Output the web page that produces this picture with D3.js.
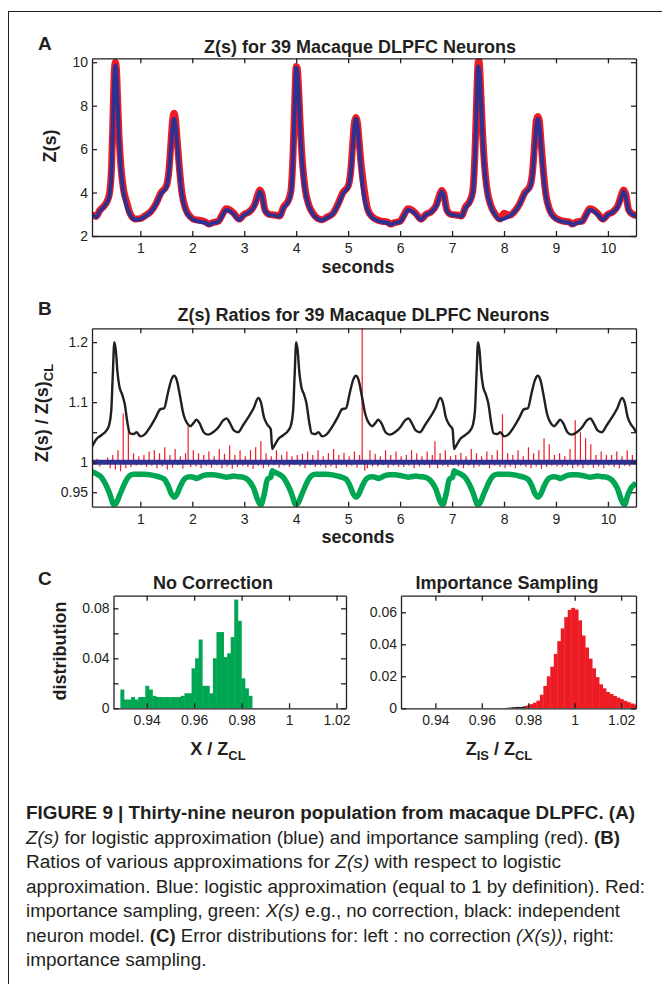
<!DOCTYPE html>
<html lang="en">
<head>
<meta charset="UTF-8">
<title>Figure 9 -- macaque DLPFC</title>
<style>
  html, body { margin: 0; padding: 0; background: #fff; }
  svg { display: block; }
  text { fill: #231f20; }
</style>
</head>
<body>
<div id="chart"></div>
<script src="https://cdn.jsdelivr.net/npm/d3@7"></script>
<script>
  // ---------- panel A : Z(s), seconds
  const zTimes = [
    0.07, 0.15, 0.22, 0.3, 0.36, 0.41, 0.45, 0.48, 0.5, 0.52,
    0.54, 0.56, 0.59, 0.63, 0.68, 0.74, 0.8, 0.9, 1.0, 1.1,
    1.2, 1.3, 1.4, 1.5, 1.55, 1.59, 1.62, 1.65, 1.68, 1.71,
    1.75, 1.8, 1.88, 1.96, 2.05, 2.15, 2.25, 2.32, 2.4, 2.5,
    2.58, 2.65, 2.72, 2.8, 2.9, 3.0, 3.1, 3.2, 3.26, 3.3,
    3.34, 3.4, 3.48, 3.58, 3.68, 3.76, 3.84, 3.9, 3.94, 3.97,
    4.0, 4.02, 4.05, 4.08, 4.12, 4.17, 4.24, 4.32, 4.42, 4.5,
    4.6, 4.7, 4.8, 4.9, 5.0, 5.05, 5.09, 5.12, 5.15, 5.18,
    5.21, 5.25, 5.3, 5.38, 5.46, 5.55, 5.65, 5.75, 5.82, 5.9,
    6.0, 6.08, 6.15, 6.22, 6.3, 6.4, 6.5, 6.6, 6.7, 6.76,
    6.8, 6.84, 6.9, 6.98, 7.08, 7.18, 7.26, 7.34, 7.4, 7.44,
    7.47, 7.5, 7.52, 7.55, 7.58, 7.62, 7.67, 7.74, 7.82, 7.92,
    8.0, 8.1, 8.2, 8.3, 8.4, 8.5, 8.55, 8.59, 8.62, 8.65,
    8.68, 8.71, 8.75, 8.8, 8.88, 8.96, 9.05, 9.15, 9.25, 9.32,
    9.4, 9.5, 9.58, 9.65, 9.72, 9.8, 9.9, 10.0, 10.1, 10.2,
    10.26, 10.3, 10.34, 10.4, 10.48, 10.54
  ]
  // logistic approximation (blue)
  const zLogistic = [
    2.95, 2.88, 3.15, 3.35, 3.55, 3.9, 5.2, 7.8, 9.3, 9.85,
    9.5, 8.3, 6.4, 4.9, 3.95, 3.35, 3.0, 2.75, 2.78, 2.92,
    3.1, 3.45, 3.95, 4.25, 4.9, 6.1, 7.0, 7.4, 7.1, 6.2,
    5.0, 3.9, 3.15, 2.85, 2.72, 2.65, 2.62, 2.52, 2.6, 2.65,
    2.95, 3.2, 3.15, 3.0, 2.75, 2.98, 3.1, 3.4, 3.8, 4.05,
    3.85, 3.15, 2.98, 2.95, 2.9, 3.3, 3.55, 4.0, 5.6, 7.8,
    9.75, 9.6, 8.4, 6.8, 5.2, 4.1, 3.4, 3.0, 2.78, 2.72,
    2.85, 3.0, 3.4, 3.95, 4.25, 4.9, 6.1, 7.0, 7.4, 7.1,
    6.2, 5.0, 3.9, 3.15, 2.85, 2.72, 2.65, 2.62, 2.52, 2.6,
    2.65, 2.95, 3.2, 3.15, 3.0, 2.75, 2.98, 3.1, 3.4, 3.8,
    4.05, 3.85, 3.15, 2.98, 2.95, 2.9, 3.3, 3.55, 4.0, 5.6,
    7.8, 9.8, 9.7, 8.6, 6.9, 5.2, 4.1, 3.4, 3.0, 2.75,
    2.8, 2.92, 3.1, 3.45, 3.95, 4.25, 4.9, 6.1, 7.0, 7.4,
    7.1, 6.2, 5.0, 3.9, 3.15, 2.85, 2.72, 2.65, 2.62, 2.52,
    2.6, 2.65, 2.95, 3.2, 3.15, 3.0, 2.75, 2.98, 3.1, 3.4,
    3.8, 4.05, 3.85, 3.15, 2.98, 2.92
  ]
  // importance sampling (red)
  const zImportance = [
    2.97, 2.9, 3.18, 3.38, 3.6, 4.0, 5.4, 8.0, 9.6, 10.0,
    9.7, 8.5, 6.6, 5.1, 4.1, 3.55, 3.05, 2.78, 2.8, 2.95,
    3.12, 3.48, 4.0, 4.3, 5.0, 6.3, 7.3, 7.65, 7.3, 6.4,
    5.2, 4.0, 3.2, 2.9, 2.75, 2.72, 2.65, 2.55, 2.62, 2.68,
    3.0, 3.25, 3.2, 3.05, 2.78, 3.0, 3.12, 3.45, 3.9, 4.12,
    3.95, 3.2, 3.0, 2.97, 2.92, 3.35, 3.6, 4.1, 5.8, 8.0,
    9.8, 9.75, 8.6, 7.0, 5.4, 4.2, 3.45, 3.05, 2.8, 2.75,
    2.88, 3.02, 3.45, 4.0, 4.3, 5.0, 6.3, 7.2, 7.45, 7.2,
    6.4, 5.3, 4.3, 3.2, 2.9, 2.75, 2.68, 2.65, 2.55, 2.62,
    2.68, 3.0, 3.25, 3.2, 3.05, 2.78, 3.0, 3.12, 3.45, 3.9,
    4.1, 3.95, 3.2, 3.0, 2.97, 2.92, 3.35, 3.6, 4.1, 5.8,
    8.0, 10.0, 10.05, 8.8, 7.1, 5.4, 4.2, 3.45, 3.05, 2.78,
    3.05, 2.95, 3.12, 3.48, 4.0, 4.3, 5.0, 6.3, 7.3, 7.5,
    7.3, 6.4, 5.2, 4.0, 3.2, 2.9, 2.75, 2.68, 2.65, 2.55,
    2.65, 2.68, 3.0, 3.25, 3.2, 3.05, 2.78, 3.0, 3.12, 3.45,
    3.9, 4.12, 3.95, 3.2, 3.0, 2.95
  ]

  // ---------- panel B : ratios to logistic approximation
  const ratioTimes = [
    0.07, 0.15, 0.25, 0.35, 0.4, 0.44, 0.47, 0.5, 0.53, 0.56,
    0.6, 0.65, 0.7, 0.75, 0.8, 0.87, 0.93, 1.0, 1.08, 1.2,
    1.3, 1.38, 1.46, 1.53, 1.6, 1.65, 1.7, 1.76, 1.83, 1.9,
    1.96, 2.03, 2.08, 2.14, 2.22, 2.3, 2.4, 2.5, 2.6, 2.66,
    2.72, 2.8, 2.88, 2.98, 3.08, 3.18, 3.27, 3.32, 3.38, 3.45,
    3.51, 3.54,
    3.57, 3.65, 3.75, 3.85, 3.9, 3.94, 3.97, 4.0, 4.03, 4.06,
    4.1, 4.15, 4.2, 4.25, 4.3, 4.37, 4.43, 4.5, 4.58, 4.7,
    4.8, 4.88, 4.96, 5.03, 5.1, 5.15, 5.2, 5.26, 5.33, 5.4,
    5.46, 5.53, 5.58, 5.64, 5.72, 5.8, 5.9, 6.0, 6.1, 6.16,
    6.22, 6.3, 6.38, 6.48, 6.58, 6.68, 6.77, 6.82, 6.88, 6.95,
    7.01, 7.04,
    7.07, 7.15, 7.25, 7.35, 7.4, 7.44, 7.47, 7.5, 7.53, 7.56,
    7.6, 7.65, 7.7, 7.75, 7.8, 7.87, 7.93, 8.0, 8.08, 8.2,
    8.3, 8.38, 8.46, 8.53, 8.6, 8.65, 8.7, 8.76, 8.83, 8.9,
    8.96, 9.03, 9.08, 9.14, 9.22, 9.3, 9.4, 9.5, 9.6, 9.66,
    9.72, 9.8, 9.88, 9.98, 10.08, 10.18, 10.27, 10.32, 10.38, 10.45,
    10.51, 10.54
  ]
  // independent neuron model (black)
  const ratioIndependent = [
    1.026, 1.038, 1.045, 1.053, 1.062, 1.085, 1.145, 1.2, 1.185, 1.15,
    1.125, 1.113, 1.097, 1.067, 1.048, 1.047, 1.05, 1.043, 1.046, 1.06,
    1.075, 1.088, 1.09, 1.115, 1.138, 1.144, 1.137, 1.112, 1.08, 1.065,
    1.06, 1.066, 1.071, 1.065, 1.05, 1.046, 1.05, 1.058, 1.07, 1.073,
    1.066, 1.053, 1.05, 1.062, 1.075, 1.09, 1.107, 1.1, 1.075, 1.062,
    1.055, 1.022,
    1.026, 1.038, 1.045, 1.053, 1.062, 1.085, 1.145, 1.2, 1.185, 1.15,
    1.125, 1.113, 1.097, 1.067, 1.048, 1.047, 1.05, 1.043, 1.046, 1.06,
    1.075, 1.088, 1.09, 1.115, 1.138, 1.144, 1.137, 1.112, 1.08, 1.065,
    1.06, 1.066, 1.071, 1.065, 1.05, 1.046, 1.05, 1.058, 1.07, 1.073,
    1.066, 1.053, 1.05, 1.062, 1.075, 1.09, 1.107, 1.1, 1.075, 1.062,
    1.055, 1.022,
    1.026, 1.038, 1.045, 1.053, 1.062, 1.085, 1.145, 1.2, 1.185, 1.15,
    1.125, 1.113, 1.097, 1.067, 1.048, 1.047, 1.05, 1.043, 1.046, 1.06,
    1.075, 1.088, 1.09, 1.115, 1.138, 1.144, 1.137, 1.112, 1.08, 1.065,
    1.06, 1.066, 1.071, 1.065, 1.05, 1.046, 1.05, 1.058, 1.07, 1.073,
    1.066, 1.053, 1.05, 1.062, 1.075, 1.09, 1.107, 1.1, 1.075, 1.062,
    1.055, 1.05
  ]
  // no correction X(s) (green)
  const ratioNoCorrection = [
    0.984, 0.981, 0.975, 0.96, 0.95, 0.94, 0.932, 0.929, 0.931, 0.936,
    0.945, 0.955, 0.965, 0.973, 0.978, 0.98, 0.98, 0.98, 0.98, 0.979,
    0.977, 0.975, 0.972, 0.962, 0.947, 0.942, 0.946, 0.958, 0.97, 0.975,
    0.976, 0.975, 0.973, 0.975, 0.978, 0.979, 0.979, 0.978, 0.976, 0.975,
    0.976, 0.977, 0.976, 0.975, 0.97, 0.957, 0.935, 0.929, 0.945, 0.972,
    0.975, 0.986,
    0.984, 0.981, 0.975, 0.96, 0.95, 0.94, 0.932, 0.929, 0.931, 0.936,
    0.945, 0.955, 0.965, 0.973, 0.978, 0.98, 0.98, 0.98, 0.98, 0.979,
    0.977, 0.975, 0.972, 0.962, 0.947, 0.942, 0.946, 0.958, 0.97, 0.975,
    0.976, 0.975, 0.973, 0.975, 0.978, 0.979, 0.979, 0.978, 0.976, 0.975,
    0.976, 0.977, 0.976, 0.975, 0.97, 0.957, 0.935, 0.929, 0.945, 0.972,
    0.975, 0.986,
    0.984, 0.981, 0.975, 0.96, 0.95, 0.94, 0.932, 0.929, 0.931, 0.936,
    0.945, 0.955, 0.965, 0.973, 0.978, 0.98, 0.98, 0.98, 0.98, 0.979,
    0.977, 0.975, 0.972, 0.962, 0.947, 0.942, 0.946, 0.958, 0.97, 0.975,
    0.976, 0.975, 0.973, 0.975, 0.978, 0.979, 0.979, 0.978, 0.976, 0.975,
    0.976, 0.977, 0.976, 0.975, 0.97, 0.957, 0.935, 0.929, 0.945, 0.958,
    0.963, 0.966
  ]
  // logistic approximation (blue) is 1 by definition
  const ratioLogisticTimes = [0.07, 10.54]
  const ratioLogistic = [1, 1]
  // importance sampling (red), sampled every 0.05 s from 0.07 s
  const isStart = 0.07
  const isStep = 0.05
  const ratioImportance = [
    1.004, 0.996, 1.006, 0.993, 1.003, 0.997, 1.008, 0.99, 1.012, 0.988, 1.02, 0.985, 1.081, 0.99, 1.06, 0.992, 1.015, 0.994, 1.01, 0.995,
    1.012, 0.992, 1.018, 0.994, 1.02, 0.99, 1.015, 0.993, 1.025, 0.988, 1.012, 0.991, 1.022, 0.995, 1.01, 0.989, 1.015, 1.06, 0.992, 1.02,
    0.993, 1.015, 0.99, 1.012, 0.994, 1.018, 0.991, 1.01, 0.995, 1.022, 0.99, 1.014, 0.993, 1.028, 0.989, 1.012, 0.992, 1.02, 0.994, 1.01,
    0.992, 1.02, 0.989, 1.025, 0.994, 1.035, 0.99, 1.015, 0.993, 1.01, 0.995, 1.02, 0.991, 1.012, 0.994, 1.018, 0.992, 1.01, 0.995, 1.012,
    0.993, 1.014, 0.99, 1.018, 0.995, 1.012, 0.992, 1.02, 0.994, 1.01, 0.991, 1.015, 0.993, 1.022, 0.99, 1.012, 0.995, 1.016, 0.992, 1.01,
    0.994, 1.018, 0.991, 1.012, 1.25, 0.986, 0.99, 1.02, 0.993, 1.014, 0.993, 1.01, 0.995, 1.02, 0.991, 1.012, 0.994, 1.018, 0.992, 1.01,
    0.992, 1.012, 0.994, 1.02, 0.99, 1.015, 0.993, 1.01, 0.995, 1.018, 0.991, 1.012, 1.035, 0.99, 1.015, 0.994, 1.02, 0.992, 1.01, 0.995,
    1.012, 0.993, 1.016, 0.99, 1.01, 0.994, 1.022, 0.991, 1.015, 0.993, 1.01, 0.995, 1.018, 0.99, 1.012, 0.994, 1.02, 0.992, 1.08, 0.99,
    1.015, 0.993, 1.012, 0.99, 1.02, 0.994, 1.01, 0.992, 1.025, 0.99, 1.015, 0.993, 1.02, 0.989, 1.04, 0.992, 1.03, 0.994, 1.012, 0.993,
    1.015, 0.992, 1.01, 0.994, 1.022, 0.99, 1.07, 0.993, 1.05, 0.99, 1.04, 0.994, 1.03, 0.991, 1.012, 0.993, 1.018, 0.99, 1.012, 0.994,
    1.012, 0.992, 1.018, 0.99, 1.01, 0.994, 1.02, 0.993, 1.012, 0.996
  ]

  // ---------- panel C : error distributions
  const noCorrStart = 0.9289
  const noCorrWidth = 0.0015
  const noCorrDist = [
    0.015, 0.007, 0.007, 0.009, 0.007, 0.009, 0.009, 0.018, 0.015, 0.010,
    0.009, 0.009, 0.009, 0.009, 0.009, 0.009, 0.009, 0.010, 0.012, 0.012,
    0.032, 0.040, 0.055, 0.018, 0.018, 0.012, 0.040, 0.061, 0.061, 0.041,
    0.044, 0.057, 0.087, 0.070, 0.024, 0.016, 0.010
  ]
  const isHistStart = 0.976
  const isHistWidth = 0.0015
  const isDist = [
    0.0008, 0.0012, 0.0018, 0.0026, 0.0035, 0.0048, 0.0085, 0.014, 0.020, 0.026,
    0.034, 0.042, 0.050, 0.057, 0.0615, 0.0628, 0.0618, 0.055, 0.0455, 0.038,
    0.031, 0.025, 0.0195, 0.015, 0.0125, 0.0102, 0.009, 0.0078, 0.0067, 0.0057,
    0.0047, 0.0038, 0.003, 0.0024
  ]
  const isTailStart = 0.970
  const isTail = [0.0003, 0.0005, 0.0007, 0.0009]

  // ---------- ticks
  const secondTicks = [1, 2, 3, 4, 5, 6, 7, 8, 9, 10]
  const zTicks = [2, 4, 6, 8, 10]
  const ratioTicks = [0.95, 1, 1.05, 1.1, 1.15, 1.2]
  const ratioTickLabels = ['0.95', '1', '', '1.1', '', '1.2']
  const distTicks = [0.94, 0.96, 0.98, 1, 1.02]
  const distTickLabels = ['0.94', '0.96', '0.98', '1', '1.02']
  const noCorrTicks = [0, 0.02, 0.04, 0.06, 0.08]
  const noCorrTickLabels = ['0', '', '0.04', '', '0.08']
  const isTicks = [0, 0.02, 0.04, 0.06]
  const isTickLabels = ['0', '0.02', '0.04', '0.06']

  const FONT = "'Liberation Sans', Arial, Helvetica, sans-serif"
  const NARROW = "'Liberation Sans', Arial, sans-serif"
  const INK = '#231f20'
  const RED = '#ed1c24'
  const BLUE = '#2e3192'
  const GREEN = '#00a651'

  const svg = d3.select('#chart').append('svg')
    .attr('width', 662)
    .attr('height', 984)
    .attr('font-family', FONT)

  svg.append('rect').attr('width', 662).attr('height', 984).attr('fill', '#fff')
  // figure frame
  svg.append('rect')
    .attr('x', 8.5).attr('y', 11.5)
    .attr('width', 700).attr('height', 1000)
    .attr('fill', 'none').attr('stroke', INK).attr('stroke-width', 1)

  function panel(id, left, top, w, h, xDomain, yDomain) {
    let g = svg.append('g').attr('transform', `translate(${left},${top})`)
    let x = d3.scaleLinear().domain(xDomain).range([0, w])
    let y = d3.scaleLinear().domain(yDomain).range([h, 0])
    g.append('clipPath').attr('id', id).append('rect').attr('width', w).attr('height', h)
    let plot = g.append('g').attr('clip-path', `url(#${id})`)
    return {g, x, y, plot, w, h}
  }

  // matlab style box: ticks inward on all four sides
  function box(p, xt, xl, yt, yl) {
    let tick = 5
    let ax = p.g.append('g')
    ax.append('g').attr('transform', `translate(0,${p.h})`)
      .call(d3.axisBottom(p.x).tickValues(xt).tickFormat((d, i) => xl[i])
        .tickSizeInner(-tick).tickSizeOuter(0).tickPadding(7))
    ax.append('g')
      .call(d3.axisTop(p.x).tickValues(xt).tickFormat('').tickSizeInner(-tick).tickSizeOuter(0))
    ax.append('g')
      .call(d3.axisLeft(p.y).tickValues(yt).tickFormat((d, i) => yl[i])
        .tickSizeInner(-tick).tickSizeOuter(0).tickPadding(4))
    ax.append('g').attr('transform', `translate(${p.w},0)`)
      .call(d3.axisRight(p.y).tickValues(yt).tickFormat('').tickSizeInner(-tick).tickSizeOuter(0))
    ax.selectAll('.domain, .tick line').attr('stroke', INK).attr('stroke-width', 1.3)
    ax.selectAll('.tick text')
      .attr('fill', INK)
      .attr('font-family', FONT)
      .attr('font-size', 14)
  }

  function label(txt, x, y, size, weight, anchor) {
    return svg.append('text')
      .attr('x', x).attr('y', y)
      .attr('font-size', size)
      .attr('font-weight', weight || 'bold')
      .attr('text-anchor', anchor || 'middle')
      .text(txt)
  }

  // ================= A
  let pa = panel('clipA', 92, 58.3, 544, 177.7, [0.07, 10.54], [2, 10.18])
  let lineA = (vals) => d3.line()
    .x((d, i) => pa.x(zTimes[i]))
    .y(d => pa.y(d))
    .curve(d3.curveMonotoneX)(vals)
  pa.plot.append('path').attr('d', lineA(zImportance))
    .attr('fill', 'none').attr('stroke', RED).attr('stroke-width', 7)
    .attr('stroke-linejoin', 'round').attr('stroke-linecap', 'round')
  pa.plot.append('path').attr('d', lineA(zLogistic))
    .attr('fill', 'none').attr('stroke', BLUE).attr('stroke-width', 4)
    .attr('stroke-linejoin', 'round')
  box(pa, secondTicks, secondTicks.map(String), zTicks, zTicks.map(String))

  label('A', 38, 49.5, 19, 'bold', 'start')
  label('Z(s) for 39 Macaque DLPFC Neurons', 360, 53, 18)
  label('seconds', 358, 273, 18)
  svg.append('text')
    .attr('transform', 'translate(56,146) rotate(-90)')
    .attr('font-size', 18).attr('font-weight', 'bold').attr('text-anchor', 'middle')
    .text('Z(s)')

  // ================= B
  let pb = panel('clipB', 92, 328.3, 544, 178.4, [0.07, 10.54], [0.926, 1.223])
  // importance sampling ratio: dense spikes about 1
  pb.plot.selectAll('line.is').data(ratioImportance).join('line').attr('class', 'is')
    .attr('x1', (d, i) => pb.x(isStart + i * isStep))
    .attr('x2', (d, i) => pb.x(isStart + i * isStep))
    .attr('y1', pb.y(1))
    .attr('y2', d => pb.y(d))
    .attr('stroke', RED).attr('stroke-width', 1.2)
  pb.plot.append('path')
    .attr('d', d3.line().x((d, i) => pb.x(ratioLogisticTimes[i])).y(d => pb.y(d))(ratioLogistic))
    .attr('fill', 'none').attr('stroke', BLUE).attr('stroke-width', 5)
  pb.plot.append('path')
    .attr('d', d3.line().x((d, i) => pb.x(ratioTimes[i])).y(d => pb.y(d))
      .curve(d3.curveMonotoneX)(ratioIndependent))
    .attr('fill', 'none').attr('stroke', INK).attr('stroke-width', 2.4)
    .attr('stroke-linejoin', 'round')
  pb.plot.append('path')
    .attr('d', d3.line().x((d, i) => pb.x(ratioTimes[i])).y(d => pb.y(d))
      .curve(d3.curveMonotoneX)(ratioNoCorrection))
    .attr('fill', 'none').attr('stroke', GREEN).attr('stroke-width', 5.5)
    .attr('stroke-linejoin', 'round')
  box(pb, secondTicks, secondTicks.map(String), ratioTicks, ratioTickLabels)

  label('B', 38, 315, 19, 'bold', 'start')
  label('Z(s) Ratios for 39 Macaque DLPFC Neurons', 363.5, 321, 18)
  label('seconds', 358, 543, 18)
  let yb = svg.append('text')
    .attr('transform', 'translate(48,413) rotate(-90)')
    .attr('font-size', 18).attr('font-weight', 'bold').attr('text-anchor', 'middle')
  yb.append('tspan').text('Z(s) / Z(s)')
  yb.append('tspan').attr('font-size', 13).attr('dy', 5).text('CL')

  // ================= C
  let pcl = panel('clipCL', 113.5, 595.7, 232.5, 112.6, [0.926, 1.024], [0, 0.0901])
  pcl.plot.selectAll('rect').data(noCorrDist).join('rect')
    .attr('x', (d, i) => pcl.x(noCorrStart + i * noCorrWidth))
    .attr('width', (d, i) => pcl.x(noCorrStart + (i + 1) * noCorrWidth) - pcl.x(noCorrStart + i * noCorrWidth) + 0.4)
    .attr('y', d => pcl.y(d))
    .attr('height', d => pcl.y(0) - pcl.y(d))
    .attr('fill', GREEN)
  box(pcl, distTicks, distTickLabels, noCorrTicks, noCorrTickLabels)

  let pcr = panel('clipCR', 401, 595.7, 235, 112.6, [0.9252, 1.0264], [0, 0.0704])
  pcr.plot.selectAll('rect.tail').data(isTail).join('rect').attr('class', 'tail')
    .attr('x', (d, i) => pcr.x(isTailStart + i * isHistWidth))
    .attr('width', (d, i) => pcr.x(isTailStart + (i + 1) * isHistWidth) - pcr.x(isTailStart + i * isHistWidth) + 0.4)
    .attr('y', d => pcr.y(d))
    .attr('height', d => pcr.y(0) - pcr.y(d))
    .attr('fill', INK)
  pcr.plot.selectAll('rect.bin').data(isDist).join('rect').attr('class', 'bin')
    .attr('x', (d, i) => pcr.x(isHistStart + i * isHistWidth))
    .attr('width', (d, i) => pcr.x(isHistStart + (i + 1) * isHistWidth) - pcr.x(isHistStart + i * isHistWidth) + 0.4)
    .attr('y', d => pcr.y(d))
    .attr('height', d => pcr.y(0) - pcr.y(d))
    .attr('fill', (d, i) => i < 2 ? INK : RED)
  box(pcr, distTicks, distTickLabels, isTicks, isTickLabels)

  label('C', 38, 585, 19, 'bold', 'start')
  label('No Correction', 213, 589, 18)
  label('Importance Sampling', 507, 589, 18)
  svg.append('text')
    .attr('transform', 'translate(66,651) rotate(-90)')
    .attr('font-size', 18).attr('font-weight', 'bold').attr('text-anchor', 'middle')
    .text('distribution')

  let xl = svg.append('text').attr('x', 218).attr('y', 755)
    .attr('font-size', 18).attr('font-weight', 'bold').attr('text-anchor', 'middle')
  xl.append('tspan').text('X / Z')
  xl.append('tspan').attr('font-size', 13).attr('dy', 5).text('CL')

  let xr = svg.append('text').attr('x', 499).attr('y', 755)
    .attr('font-size', 18).attr('font-weight', 'bold').attr('text-anchor', 'middle')
  xr.append('tspan').text('Z')
  xr.append('tspan').attr('font-size', 13).attr('dy', 5).text('IS')
  xr.append('tspan').attr('dy', -5).text(' / Z')
  xr.append('tspan').attr('font-size', 13).attr('dy', 5).text('CL')

  // ================= caption
  const captionLines = [
    {y: 819, end: 635, parts: [['FIGURE 9 | Thirty-nine neuron population from macaque DLPFC. (A)', 'b']]},
    {y: 843.5, end: 620, parts: [['Z(s)', 'i'], [' for logistic approximation (blue) and importance sampling (red). ', ''], ['(B)', 'b']]},
    {y: 868, end: 561, parts: [['Ratios of various approximations for ', ''], ['Z(s)', 'i'], [' with respect to logistic', '']]},
    {y: 892.5, end: 645, parts: [['approximation. Blue: logistic approximation (equal to 1 by definition). Red:', '']]},
    {y: 917, end: 620, parts: [['importance sampling, green: ', ''], ['X(s)', 'i'], [' e.g., no correction, black: independent', '']]},
    {y: 941.5, end: 614, parts: [['neuron model. ', ''], ['(C)', 'b'], [' Error distributions for: left : no correction ', ''], ['(X(s))', 'i'], [', right:', '']]},
    {y: 966, end: 206.5, parts: [['importance sampling.', '']]}
  ]
  const capX = 26
  captionLines.forEach(line => {
    let t = svg.append('text')
      .attr('x', capX).attr('y', line.y)
      .attr('font-family', NARROW).attr('font-size', 18)
      .attr('textLength', line.end - capX)
      .attr('lengthAdjust', 'spacingAndGlyphs')
      .style('white-space', 'pre')
    line.parts.forEach(p => {
      t.append('tspan')
        .attr('font-weight', p[1] === 'b' ? 'bold' : 'normal')
        .attr('font-style', p[1] === 'i' ? 'italic' : 'normal')
        .text(p[0])
    })
  })
</script>
</body>
</html>
